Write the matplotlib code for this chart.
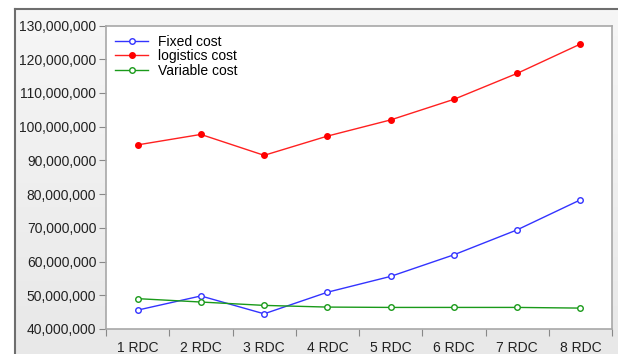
import numpy as np
import matplotlib
matplotlib.use("Agg")
import matplotlib.pyplot as plt
from matplotlib.ticker import FuncFormatter

plt.rcParams['font.family'] = ['Liberation Sans', 'DejaVu Sans']

categories = ["1 RDC", "2 RDC", "3 RDC", "4 RDC", "5 RDC", "6 RDC", "7 RDC", "8 RDC"]
fixed_cost = [45.6e6, 49.8e6, 44.5e6, 50.9e6, 55.6e6, 62.0e6, 69.4e6, 78.3e6]
logistics_cost = [94.6e6, 97.7e6, 91.5e6, 97.2e6, 102.0e6, 108.1e6, 115.8e6, 124.5e6]
variable_cost = [49.0e6, 48.0e6, 47.0e6, 46.5e6, 46.4e6, 46.4e6, 46.4e6, 46.2e6]

W, H = 618, 354
fig = plt.figure(figsize=(W / 100, H / 100), dpi=100)
fig.patch.set_facecolor('white')

# grey window background with faint vertical gradient
bg = fig.add_axes([15 / W, 0, 1 - 15 / W, 1 - 9 / H])
grad = np.linspace(0.965, 0.91, 256).reshape(-1, 1)
bg.imshow(np.dstack([grad] * 3), aspect='auto', extent=[0, 1, 0, 1])
bg.set_axis_off()
fig.add_artist(plt.Line2D([15 / W, 1], [1 - 9 / H, 1 - 9 / H], color='#6e6e6e', lw=1.5))
fig.add_artist(plt.Line2D([15 / W, 15 / W], [0, 1 - 9 / H], color='#6e6e6e', lw=1.5))

left, right, top, bottom = 106, 612, 25.5, 329
ax = fig.add_axes([left / W, 1 - bottom / H, (right - left) / W, (bottom - top) / H])
ax.set_facecolor('white')

x = np.arange(len(categories))
ax.plot(x, fixed_cost, color='#3333ff', lw=1, marker='o', ms=4,
        mfc='white', mec='#3333ff', mew=1, label='Fixed cost')
ax.plot(x, logistics_cost, color='#ff2020', lw=1, marker='o', ms=4,
        mfc='red', mec='red', label='logistics cost')
ax.plot(x, variable_cost, color='#1a9a1a', lw=1, marker='o', ms=4,
        mfc='white', mec='#1a9a1a', mew=1, label='Variable cost')

ax.set_xlim(-0.5, len(categories) - 0.5)
ax.set_ylim(40e6, 130e6)
ax.set_yticks(np.arange(40e6, 130e6 + 1, 10e6))
ax.yaxis.set_major_formatter(FuncFormatter(lambda v, p: f"{v:,.0f}"))

ax.set_xticks(np.arange(-0.5, len(categories), 1.0))
ax.set_xticklabels([])
ax.set_xticks(x, minor=True)
ax.set_xticklabels(categories, minor=True)
ax.tick_params(axis='x', which='minor', length=0, pad=9, labelsize=10, colors='#222222')
ax.tick_params(axis='x', which='major', length=5, direction='out', color='#888888')
ax.tick_params(axis='y', length=5, direction='out', color='#888888', labelsize=10,
               labelcolor='#222222', pad=2)

for s in ax.spines.values():
    s.set_color('#a8a8a8')
    s.set_linewidth(1.2)

leg = ax.legend(loc='upper left', frameon=False, fontsize=10, handlelength=2.4,
                borderaxespad=0.45, labelspacing=0.05, handletextpad=0.7,
                borderpad=0.2)

fig.savefig('out.png', dpi=100)
